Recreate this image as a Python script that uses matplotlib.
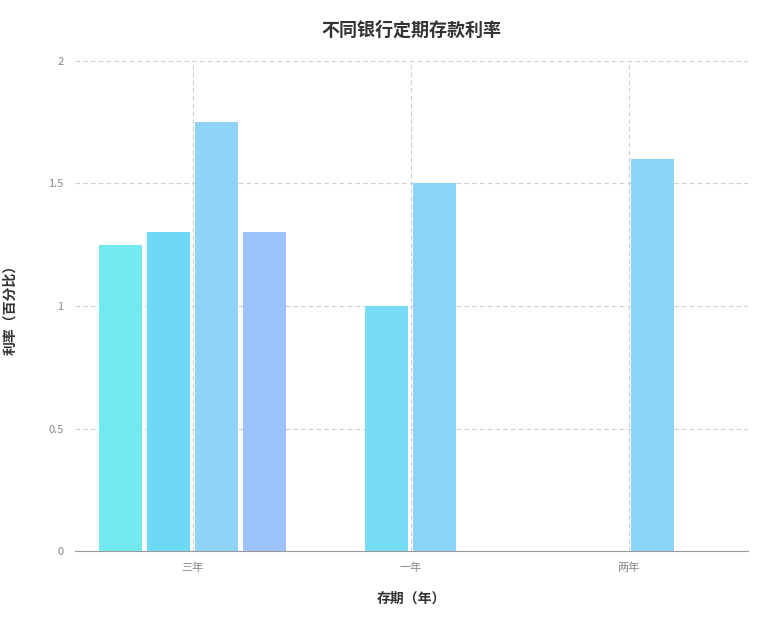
import matplotlib.pyplot as plt

plt.rcParams['font.family'] = ['Noto Sans CJK SC', 'DejaVu Sans']

categories = ['三年', '一年', '两年']
# values per category, in the order the bars appear (None = empty slot)
group_values = [
    [1.25, 1.3, 1.75, 1.3],
    [1.0, 1.5],
    [None, 1.6],
]
group_colors = [
    ['#73E8EF', '#6DD9F4', '#8FD3F7', '#9DC3FD'],
    ['#76DDF5', '#8CD4F7'],
    ['#76DDF5', '#8CD4F7'],
]
y_ticks = [0, 0.5, 1, 1.5, 2]
y_tick_labels = ['0', '0.5', '1', '1.5', '2']

fig = plt.figure(figsize=(7.63, 6.27), dpi=100)
ax = fig.add_axes([0.098, 0.121, 0.882, 0.782])

slot = 0.22
width = 0.197
for i, vals in enumerate(group_values):
    n = len(vals)
    for j, v in enumerate(vals):
        if v is None:
            continue
        x = i + (j - (n - 1) / 2) * slot
        ax.bar(x, v, width=width, color=group_colors[i][j], zorder=3)

ax.set_xlim(-0.541, 2.546)
ax.set_ylim(0, 2)
ax.set_xticks(range(len(categories)))
ax.set_xticklabels(categories, fontsize=8, color='#888888')
ax.set_yticks(y_ticks)
ax.set_yticklabels(y_tick_labels, fontsize=8, color='#888888')
ax.tick_params(length=0, pad=8)
ax.grid(True, linestyle=(0, (4, 3)), color='#cccccc', linewidth=0.8, zorder=0)
for s in ['top', 'right', 'left']:
    ax.spines[s].set_visible(False)
ax.spines['bottom'].set_color('#999999')

ax.set_title('不同银行定期存款利率', fontsize=13, fontweight='bold', color='#333333', pad=18)
ax.set_xlabel('存期（年）', fontsize=10, fontweight='bold', color='#333333', labelpad=14)
ax.set_ylabel('利率（百分比）', fontsize=10, fontweight='bold', color='#333333', labelpad=22)

fig.savefig('out.png', dpi=100)
